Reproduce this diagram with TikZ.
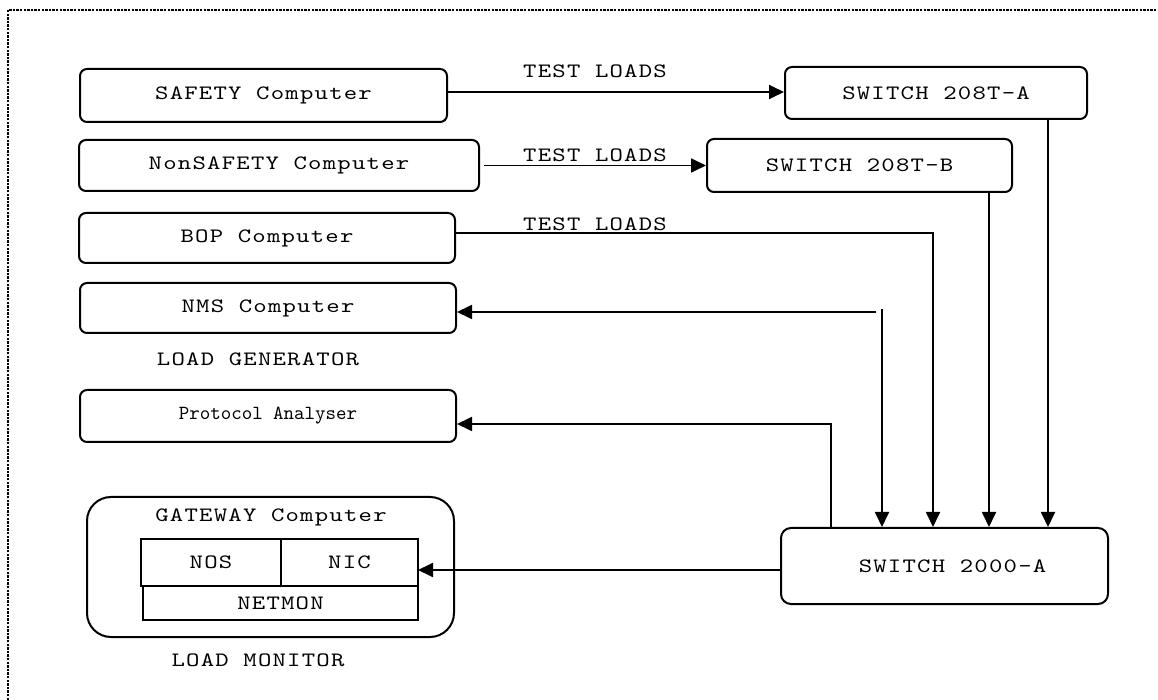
\documentclass[tikz,border=0pt]{standalone}
\usepackage{fontspec}
\newfontfamily\widemono{lmmono10-regular.otf}[FakeStretch=1.25, LetterSpace=6]
\newfontfamily\plainmono{lmmono10-regular.otf}
\usetikzlibrary{arrows.meta}

\tikzset{
	unitbox/.style={draw, line width=1pt, rounded corners=3.5pt, inner sep=0pt,
		font=\widemono\fontsize{10.2}{12}\selectfont},
	cardbox/.style={draw, line width=1pt, inner sep=0pt,
		font=\widemono\fontsize{10.2}{12}\selectfont},
	tag/.style={inner sep=0pt, font=\widemono\fontsize{10.2}{12}\selectfont},
	wire/.style={line width=0.9pt},
	arr/.style={wire, -{Triangle[length=7.5pt,width=7pt]}},
	frame/.style={line width=1pt, dash pattern=on 1.2pt off 0.6pt}
}

\begin{document}
\begin{tikzpicture}[x=0.5pt, y=-0.5pt]
			\useasboundingbox (0,0) rectangle (1158,700);
			\draw[frame] (8,700) -- (8,10) -- (1158,10);

			% load generator side
			\node[unitbox, minimum width=183.5pt, minimum height=26.5pt] (safety) at (263.5,95.5) {SAFETY Computer};
			\node[unitbox, minimum width=200pt, minimum height=25.5pt] (nonsafety) at (279,165.5) {NonSAFETY Computer};
			\node[unitbox, minimum width=188pt, minimum height=25pt] (bop) at (267,238) {BOP Computer};
			\node[unitbox, minimum width=188pt, minimum height=25pt] (nms) at (268,308) {NMS Computer};
			\node[tag] (loadgen) at (258,359) {LOAD GENERATOR};
			\node[unitbox, minimum width=188pt, minimum height=26pt,
				font=\plainmono\fontsize{10}{12}\selectfont] (protocol) at (268,416) {Protocol Analyser};

			% gateway with its cards
			\node[draw, line width=1pt, rounded corners=12pt, minimum width=183.5pt, minimum height=70pt] (gateway) at (270.5,567) {};
			\node[tag] (gwtitle) at (271,517) {GATEWAY Computer};
			\node[cardbox, minimum width=70pt, minimum height=23.5pt] (nos) at (211,562.5) {NOS};
			\node[cardbox, minimum width=68.5pt, minimum height=23.5pt] (nic) at (349.5,562.5) {NIC};
			\node[cardbox, minimum width=137.5pt, minimum height=17pt] (netmon) at (280.5,603) {NETMON};
			\node[tag] (loadmon) at (258,660) {LOAD MONITOR};

			% switches
			\node[unitbox, minimum width=151pt, minimum height=26pt] (sw208a) at (936,93) {SWITCH 208T-A};
			\node[unitbox, minimum width=152.5pt, minimum height=26.5pt] (sw208b) at (859.5,165.5) {SWITCH 208T-B};
			\node[unitbox, rounded corners=5pt, minimum width=163.5pt, minimum height=38pt] (sw2000) at (944.5,566) {\hspace*{8pt}SWITCH 2000-A};

			\node[tag] (tl1) at (595,71) {TEST LOADS};
			\node[tag] (tl2) at (595,155) {TEST LOADS};
			\node[tag] (tl3) at (595,224) {TEST LOADS};

			\coordinate (xa) at (1048,0);
			\coordinate (xb) at (989,0);
			\coordinate (boptap) at (933,233);
			\coordinate (nmstap) at (882,309);
			\coordinate (nmsend) at (876,312);
			\coordinate (patap) at (831,424);
			\coordinate (nicin) at (418,570);

			\draw[arr] (safety.east |- 0,92) -- (sw208a.west |- 0,92);
			\draw[arr, shorten <=2pt] (nonsafety.east) -- (sw208b.west);
			\draw[arr] (bop.east |- boptap) -- (boptap) -- (boptap |- sw2000.north);
			\draw[arr] (xb |- sw208b.south) -- (xb |- sw2000.north);
			\draw[arr] (xa |- sw208a.south) -- (xa |- sw2000.north);
			\draw[arr] (nmstap) -- (nmstap |- sw2000.north);
			\draw[arr] (nmsend) -- (nms.east |- nmsend);
			\draw[arr] ([yshift=-1pt]patap |- sw2000.north) -- (patap) -- (protocol.east |- patap);
			\draw[arr] (sw2000.west |- nicin) -- (nicin);
\end{tikzpicture}
\end{document}
